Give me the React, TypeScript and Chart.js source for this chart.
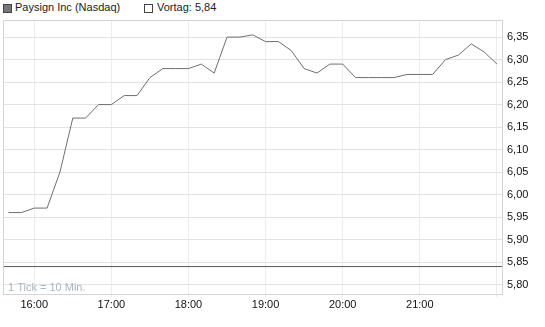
import React, { useEffect, useRef } from "react";
import { Chart, registerables } from "chart.js";

Chart.register(...registerables);

const times = [
  "15:40", "15:50", "16:00", "16:10", "16:20", "16:30", "16:40", "16:50",
  "17:00", "17:10", "17:20", "17:30", "17:40", "17:50", "18:00", "18:10",
  "18:20", "18:30", "18:40", "18:50", "19:00", "19:10", "19:20", "19:30",
  "19:40", "19:50", "20:00", "20:10", "20:20", "20:30", "20:40", "20:50",
  "21:00", "21:10", "21:20", "21:30", "21:40", "21:50", "22:00",
];
const prices = [
  5.96, 5.96, 5.97, 5.97, 6.05, 6.17, 6.17, 6.2,
  6.2, 6.22, 6.22, 6.26, 6.28, 6.28, 6.28, 6.29,
  6.27, 6.35, 6.35, 6.355, 6.34, 6.34, 6.32, 6.28,
  6.27, 6.29, 6.29, 6.26, 6.26, 6.26, 6.26, 6.267,
  6.267, 6.267, 6.3, 6.31, 6.335, 6.317, 6.29,
];
const previousClose = 5.84;
const yTicks = [5.8, 5.85, 5.9, 5.95, 6.0, 6.05, 6.1, 6.15, 6.2, 6.25, 6.3, 6.35];
const xTickLabels = ["16:00", "17:00", "18:00", "19:00", "20:00", "21:00", "22:00"];
const shownXLabels = ["16:00", "17:00", "18:00", "19:00", "20:00", "21:00"];

const toMin = (t: string) => {
  const [h, m] = t.split(":").map(Number);
  return h * 60 + m;
};
const fmtTime = (v: number) => {
  const h = Math.floor(v / 60);
  const m = Math.round(v - h * 60);
  return `${h}:${m < 10 ? "0" : ""}${m}`;
};

const X_MIN = 935.7;
const X_MAX = 1324.7;
const Y_MIN = 5.779;
const Y_MAX = 6.388;
const FONT = "'Liberation Sans', Arial, sans-serif";

export default function App() {
  const ref = useRef<HTMLCanvasElement | null>(null);

  useEffect(() => {
    document.body.style.margin = "0";
    const canvas = ref.current;
    if (!canvas) return;

    const framePlugin = {
      id: "frame",
      afterDraw(chart: any) {
        const { ctx, chartArea: a } = chart;
        ctx.save();
        ctx.strokeStyle = "#d4d4d4";
        ctx.lineWidth = 1;
        ctx.strokeRect(Math.round(a.left) + 0.5, Math.round(a.top) + 0.5, Math.round(a.right - a.left) - 1, Math.round(a.bottom - a.top));
        ctx.fillStyle = "#a9b4c4";
        ctx.font = `11px ${FONT}`;
        ctx.textBaseline = "alphabetic";
        ctx.fillText("1 Tick = 10 Min.", a.left + 5, a.bottom - 3);
        ctx.restore();
      },
    };

    const chart = new Chart(canvas, {
      type: "line",
      data: {
        datasets: [
          {
            label: "Vortag",
            data: [
              { x: X_MIN, y: previousClose },
              { x: X_MAX, y: previousClose },
            ],
            borderColor: "#5a5a5a",
            borderWidth: 1,
            pointRadius: 0,
            tension: 0,
          },
          {
            label: "Paysign Inc (Nasdaq)",
            data: times.map((t, i) => ({ x: toMin(t), y: prices[i] })),
            borderColor: "#6e6e6e",
            borderWidth: 1,
            pointRadius: 0,
            tension: 0,
          },
        ],
      },
      options: {
        animation: false,
        responsive: false,
        layout: { padding: { top: 20, left: 3, right: 0, bottom: 0 } },
        plugins: { legend: { display: false }, tooltip: { enabled: false } },
        scales: {
          x: {
            type: "linear",
            min: X_MIN,
            max: X_MAX,
            afterBuildTicks: (s: any) => {
              s.ticks = xTickLabels.map((t) => ({ value: toMin(t) }));
            },
            afterFit: (s: any) => {
              s.height = 33;
            },
            grid: { color: "#ececec", tickLength: 3, drawTicks: true },
            border: { display: false },
            ticks: {
              maxRotation: 0,
              autoSkip: false,
              padding: 1,
              color: "#111",
              font: { family: FONT, size: 11 },
              callback: (v: any) => {
                const s = fmtTime(Number(v));
                return shownXLabels.includes(s) ? s : "";
              },
            },
          },
          y: {
            type: "linear",
            position: "right",
            min: Y_MIN,
            max: Y_MAX,
            afterBuildTicks: (s: any) => {
              s.ticks = yTicks.map((v) => ({ value: v }));
            },
            afterFit: (s: any) => {
              s.width = 42;
            },
            grid: { color: "#e2e2e2", drawTicks: false },
            border: { display: false },
            ticks: {
              padding: 4,
              color: "#111",
              font: { family: FONT, size: 11 },
              callback: (v: any) => Number(v).toFixed(2).replace(".", ","),
            },
          },
        },
      },
      plugins: [framePlugin],
    } as any);

    return () => chart.destroy();
  }, []);

  const box = (filled: boolean): React.CSSProperties => ({
    position: "absolute",
    top: 4,
    width: 7,
    height: 7,
    border: "1px solid #444",
    background: filled ? "#777" : "#fff",
  });
  const label: React.CSSProperties = {
    position: "absolute",
    top: 1,
    font: `11px ${FONT}`,
    color: "#222",
    whiteSpace: "nowrap",
  };

  return (
    <div style={{ position: "fixed", left: 0, top: 0, width: 545, height: 327, background: "#fff" }}>
      <div style={{ ...box(true), left: 3 }} />
      <div style={{ ...label, left: 15 }}>Paysign Inc (Nasdaq)</div>
      <div style={{ ...box(false), left: 144 }} />
      <div style={{ ...label, left: 157 }}>Vortag: 5,84</div>
      <canvas ref={ref} width={545} height={327} style={{ position: "absolute", left: 0, top: 0 }} />
    </div>
  );
}
